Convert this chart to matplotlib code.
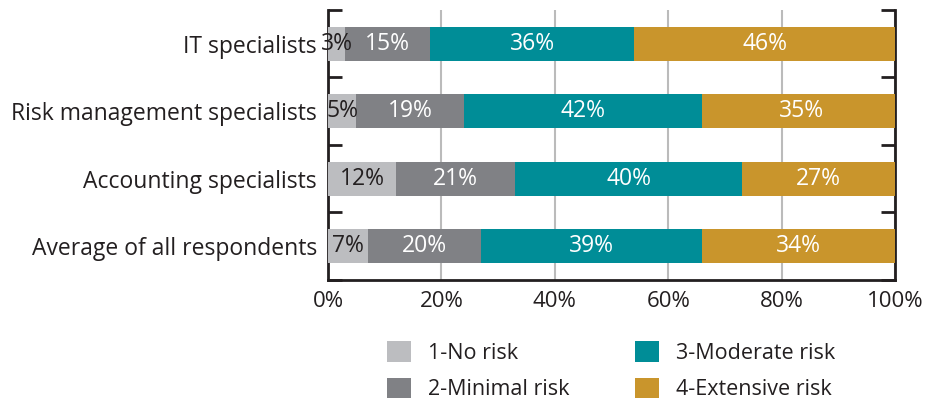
import numpy as np
import matplotlib.pyplot as plt
from matplotlib.patches import Patch

categories = ['Average of all respondents', 'Accounting specialists',
              'Risk management specialists', 'IT specialists']
no_risk = [7, 12, 5, 3]
minimal_risk = [20, 21, 19, 15]
moderate_risk = [39, 40, 42, 36]
extensive_risk = [34, 27, 35, 46]
series_names = ['1-No risk', '2-Minimal risk', '3-Moderate risk', '4-Extensive risk']
colors = ['#BCBDC0', '#808185', '#008D97', '#C9952C']
text_colors = ['#231F20', 'white', 'white', 'white']

plt.rcParams['font.family'] = ['Open Sans', 'DejaVu Sans']

fig = plt.figure(figsize=(9.35, 4.0), dpi=100)
ax = fig.add_axes([328 / 935, 1 - 280 / 400, (895 - 328) / 935, 270 / 400])

y = np.arange(len(categories))
left = np.zeros(len(categories))
for vals, col, tcol in zip([no_risk, minimal_risk, moderate_risk, extensive_risk], colors, text_colors):
    vals = np.array(vals)
    bars = ax.barh(y, vals, left=left, height=0.5, color=col, zorder=3)
    for b, v in zip(bars, vals):
        ax.text(b.get_x() + b.get_width() / 2, b.get_y() + b.get_height() / 2,
                f'{v}%', ha='center', va='center', color=tcol, fontsize=16.5, zorder=4)
    left += vals

ax.set_xlim(0, 100)
ax.set_ylim(-0.5, 3.5)
ax.set_xticks(np.arange(0, 101, 20))
ax.set_xticklabels([f'{v}%' for v in range(0, 101, 20)], fontsize=16, color='#231F20')
ax.tick_params(axis='x', length=0, pad=8)
ax.set_yticks(y)
ax.set_yticklabels(categories, fontsize=16.5, color='#231F20')
ax.tick_params(axis='y', which='major', length=0, pad=8)
ax.set_yticks([-0.5, 0.5, 1.5, 2.5, 3.5], minor=True)
ax.tick_params(axis='y', which='minor', direction='in', length=10, width=2,
               color='#231F20', left=True, right=True)
ax.grid(axis='x', color='#BBBBBB', linewidth=1.5, zorder=0)

for s in ['left', 'right', 'bottom']:
    ax.spines[s].set_linewidth(2)
    ax.spines[s].set_color('#231F20')
ax.spines['top'].set_visible(False)

handles = [Patch(facecolor=c, edgecolor='none') for c in colors]
fig.legend(handles, series_names, loc='upper left', bbox_to_anchor=(372 / 935, 1 - 326 / 400),
           ncol=2, frameon=False, fontsize=15.5, handlelength=1.1, handleheight=1.1,
           columnspacing=3.05, labelspacing=0.65, handletextpad=0.8, borderaxespad=0.3,
           labelcolor='#231F20')

fig.savefig('out.png', dpi=100)
